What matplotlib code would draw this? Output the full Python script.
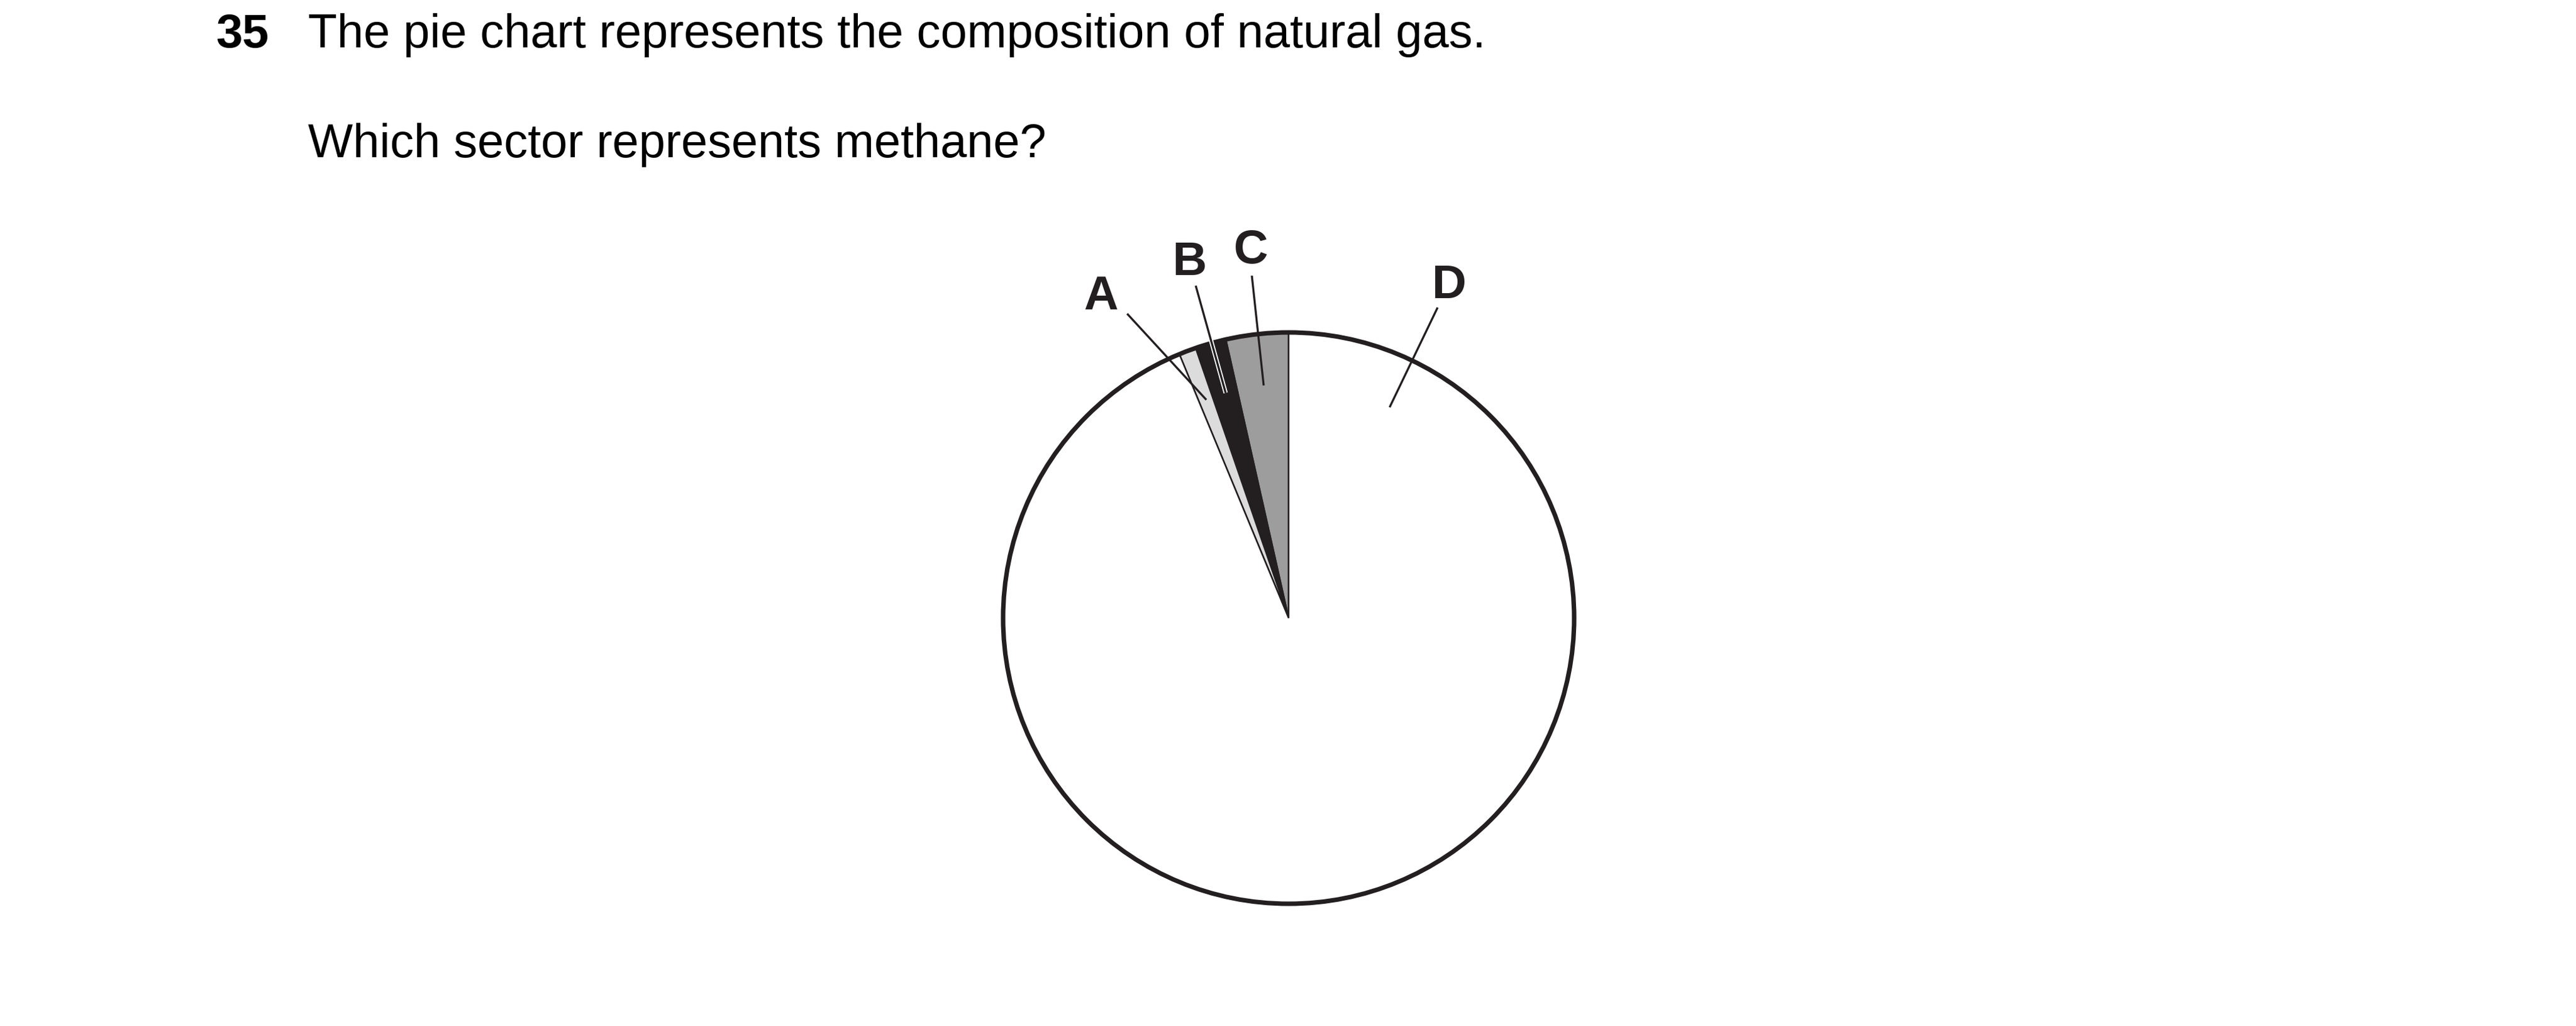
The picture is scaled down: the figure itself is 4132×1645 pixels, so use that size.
import matplotlib
matplotlib.use("Agg")
import matplotlib.pyplot as plt
import matplotlib.patheffects as pe
from matplotlib.patches import Circle

# ---- data ----
sectors = ["C", "B", "A", "D"]              # drawn anticlockwise from 12 o'clock
shares = [3.53, 1.75, 0.97, 93.75]          # percentage of the whole pie
sector_colors = ["#9d9d9d", "#231f20", "#dcdcdc", "#ffffff"]

question_number = "35"
line1 = "The pie chart represents the composition of natural gas."
line2 = "Which sector represents methane?"

# ---- layout (pixel space, y measured from top) ----
W, H = 4132, 1645
DPI = 100
cx, cy, R = 2067, 991, 458

def Y(y):
    return H - y

label_pos = {"A": (1766, 496), "B": (1908, 441), "C": (2007, 422), "D": (2324, 478)}
leaders = {
    "A": ((1808, 503), (1935, 641)),
    "B": ((1918, 458), (1966, 630)),
    "C": ((2008, 442), (2027, 618)),
    "D": ((2306, 493), (2229, 653)),
}

fig = plt.figure(figsize=(W / DPI, H / DPI), dpi=DPI)
fig.patch.set_facecolor("white")
ax = fig.add_axes([0, 0, 1, 1])

ink = "#231f20"
ax.pie(shares, colors=sector_colors, startangle=90, counterclock=True,
       center=(cx, Y(cy)), radius=R,
       wedgeprops=dict(edgecolor=ink, linewidth=1.8))
ax.add_patch(Circle((cx, Y(cy)), R, fill=False, edgecolor=ink, linewidth=5.2, zorder=5))

ax.set_xlim(0, W)
ax.set_ylim(0, H)
ax.set_aspect("equal")
ax.axis("off")

for name in ["A", "C", "D", "B"]:
    (x0, y0), (x1, y1) = leaders[name]
    effects = None
    if name == "B":
        effects = [pe.Stroke(linewidth=5.0, foreground="white"), pe.Normal()]
    ax.plot([x0, x1], [Y(y0), Y(y1)], color=ink, linewidth=2.4,
            solid_capstyle="butt", zorder=6, path_effects=effects)

for name in sectors:
    x, y = label_pos[name]
    ax.text(x, Y(y), name, ha="center", va="baseline", fontsize=55,
            fontweight="bold", family="Liberation Sans", color=ink)

ax.text(346, Y(76), question_number, ha="left", va="baseline", fontsize=55,
        fontweight="bold", family="Liberation Sans", color="black")
ax.text(494, Y(76), line1, ha="left", va="baseline", fontsize=55,
        family="Liberation Sans", color="black")
ax.text(494, Y(252), line2, ha="left", va="baseline", fontsize=55,
        family="Liberation Sans", color="black")

fig.savefig("out.png", dpi=DPI, facecolor="white")
